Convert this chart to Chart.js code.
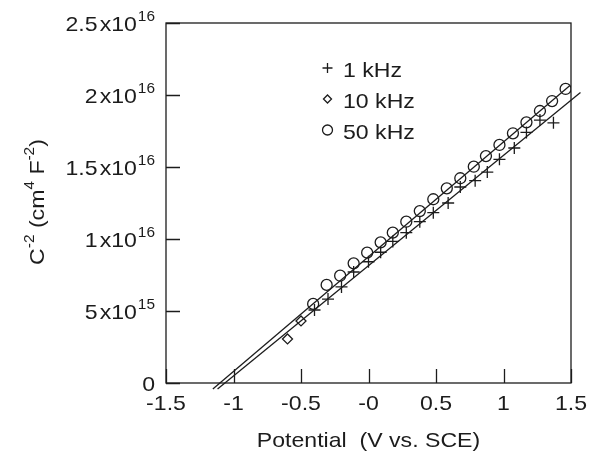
<!DOCTYPE html>
<html>
<head>
<meta charset="utf-8">
<script src="https://cdn.jsdelivr.net/npm/chart.js@4.4.1/dist/chart.umd.min.js"></script>
<style>
  html, body { margin: 0; padding: 0; background: #fff; }
  #wrap { width: 591px; height: 454px; }
</style>
</head>
<body>
<div id="wrap"><canvas id="mott" width="591" height="454"></canvas></div>
<script>
// Mott-Schottky data (potential in V vs. SCE, C^-2 in cm^4 F^-2)
const potential1k = [-0.40, -0.30, -0.20, -0.11, 0.00, 0.09, 0.18, 0.28, 0.38, 0.48, 0.59, 0.68, 0.79, 0.88, 0.97, 1.08, 1.17, 1.27, 1.37];
const csq1k = [5.07e15, 5.83e15, 6.67e15, 7.71e15, 8.42e15, 9.08e15, 9.83e15, 1.044e16, 1.120e16, 1.183e16, 1.250e16, 1.361e16, 1.405e16, 1.465e16, 1.553e16, 1.632e16, 1.740e16, 1.826e16, 1.807e16];

const potential10k = [-0.60, -0.50];
const csq10k = [3.06e15, 4.31e15];

const potential50k = [-0.41, -0.31, -0.21, -0.11, -0.01, 0.09, 0.18, 0.28, 0.38, 0.48, 0.58, 0.68, 0.78, 0.87, 0.97, 1.07, 1.17, 1.27, 1.36, 1.46];
const csq50k = [5.49e15, 6.81e15, 7.45e15, 8.31e15, 9.05e15, 9.77e15, 1.044e16, 1.120e16, 1.194e16, 1.276e16, 1.352e16, 1.422e16, 1.502e16, 1.576e16, 1.653e16, 1.734e16, 1.810e16, 1.889e16, 1.958e16, 2.042e16];

// straight-line fits (end points as drawn)
const fit50kX = [-1.153, 1.49];
const fit50kY = [-4.2e14, 2.064e16];
const fit1kX = [-1.118, 1.57];
const fit1kY = [-4.2e14, 2.017e16];

// axis ticks
const xTicks = [-1.5, -1, -0.5, 0, 0.5, 1, 1.5];
const xTickLabels = ['-1.5', '-1', '-0.5', '-0', '0.5', '1', '1.5'];
const yTicks = [0, 5e15, 1e16, 1.5e16, 2e16, 2.5e16];
const yTickMantissa = ['0', '5', '1', '1.5', '2', '2.5'];
const yTickExp = ['', '15', '16', '16', '16', '16'];

const legendNames = ['1 kHz', '10 kHz', '50 kHz'];
const legendStyles = ['cross', 'rectRot', 'circle'];

const INK = '#1c1c1c';
const FONT = '"Liberation Sans", Arial, sans-serif';
const SX = 1.1; // the original lettering is a bit wide

const toPoints = (xs, ys) => xs.map((x, i) => ({ x, y: ys[i] }));

// draw a run of [text, isSuperscript, gapBefore] pieces starting at x, baseline y
function textRun(ctx, parts, x, y, measureOnly) {
  let w = 0;
  parts.forEach(([str, sup, gap]) => {
    w += gap || 0;
    ctx.font = (sup ? '14px ' : '21px ') + FONT;
    const pw = ctx.measureText(str).width * SX;
    if (!measureOnly) {
      ctx.save();
      ctx.translate(x + w, sup ? y - 10 : y);
      ctx.scale(SX, 1);
      ctx.textAlign = 'left';
      ctx.textBaseline = 'alphabetic';
      ctx.fillText(str, 0, 0);
      ctx.restore();
    }
    w += pw;
  });
  return w;
}

const axesPlugin = {
  id: 'axesPlugin',
  afterDraw(chart) {
    const { ctx, chartArea: a, scales } = chart;
    const xs = scales.x, ys = scales.y;
    ctx.save();
    ctx.strokeStyle = INK;
    ctx.fillStyle = INK;
    ctx.lineWidth = 1.3;

    // frame
    ctx.strokeRect(a.left, a.top, a.right - a.left, a.bottom - a.top);

    // inward ticks
    ctx.beginPath();
    xTicks.forEach(v => {
      const px = Math.round(xs.getPixelForValue(v)) + 0.5;
      ctx.moveTo(px, a.bottom);
      ctx.lineTo(px, a.bottom - 14);
    });
    yTicks.forEach(v => {
      const py = Math.round(ys.getPixelForValue(v)) + 0.5;
      ctx.moveTo(a.left, py);
      ctx.lineTo(a.left + 14, py);
    });
    ctx.stroke();

    // x tick labels
    xTicks.forEach((v, i) => {
      const px = xs.getPixelForValue(v);
      const w = textRun(ctx, [[xTickLabels[i], false]], 0, 0, true);
      textRun(ctx, [[xTickLabels[i], false]], px - w / 2, a.bottom + 27, false);
    });

    // y tick labels with powers of ten
    yTicks.forEach((v, i) => {
      const py = ys.getPixelForValue(v);
      const parts = yTickExp[i]
        ? [[yTickMantissa[i], false], ['x', false, 2], ['10', false], [yTickExp[i], true, 1]]
        : [[yTickMantissa[i], false]];
      const w = textRun(ctx, parts, 0, 0, true);
      textRun(ctx, parts, a.left - 11 - w, py + 8, false);
    });

    // x title
    const xt = [['Potential  (V vs. SCE)', false]];
    const xw = textRun(ctx, xt, 0, 0, true);
    textRun(ctx, xt, (a.left + a.right) / 2 - xw / 2, 447, false);

    // y title, rotated
    const yt = [['C', false], ['-2', true], [' (cm', false], ['4', true], [' F', false], ['-2', true], [')', false]];
    const yw = textRun(ctx, yt, 0, 0, true);
    ctx.save();
    ctx.translate(44, 202);
    ctx.rotate(-Math.PI / 2);
    textRun(ctx, yt, -yw / 2, 0, false);
    ctx.restore();

    // legend inside the plot
    legendNames.forEach((name, i) => {
      const ly = 68 + i * 31;
      ctx.fillStyle = 'rgba(0,0,0,0)';
      ctx.strokeStyle = INK;
      ctx.lineWidth = 1.3;
      const r = legendStyles[i] === 'rectRot' ? 4 : 5;
      Chart.helpers.drawPoint(ctx, { pointStyle: legendStyles[i], radius: r, borderWidth: 1.3, rotation: 0 }, 327.5, ly);
      ctx.fillStyle = INK;
      textRun(ctx, [[name, false]], 343, ly + 8.5, false);
    });
    ctx.restore();
  }
};

const markerBase = {
  showLine: false,
  borderColor: INK,
  backgroundColor: 'rgba(0,0,0,0)',
  pointBorderWidth: 1.3
};

new Chart(document.getElementById('mott'), {
  type: 'scatter',
  data: {
    datasets: [
      { label: 'fit 50 kHz', data: toPoints(fit50kX, fit50kY), showLine: true, pointRadius: 0, borderColor: INK, borderWidth: 1.3, clip: false },
      { label: 'fit 1 kHz', data: toPoints(fit1kX, fit1kY), showLine: true, pointRadius: 0, borderColor: INK, borderWidth: 1.3, clip: false },
      { ...markerBase, label: '1 kHz', data: toPoints(potential1k, csq1k), pointStyle: 'cross', pointRadius: 6 },
      { ...markerBase, label: '10 kHz', data: toPoints(potential10k, csq10k), pointStyle: 'rectRot', pointRadius: 5 },
      { ...markerBase, label: '50 kHz', data: toPoints(potential50k, csq50k), pointStyle: 'circle', pointRadius: 5.5 }
    ]
  },
  options: {
    responsive: false,
    animation: false,
    layout: { padding: { left: 166, top: 23, right: 20, bottom: 71 } },
    plugins: { legend: { display: false }, tooltip: { enabled: false } },
    scales: {
      x: { type: 'linear', min: -1.5, max: 1.5, display: false },
      y: { type: 'linear', min: 0, max: 2.5e16, display: false }
    }
  },
  plugins: [axesPlugin]
});
</script>
</body>
</html>
